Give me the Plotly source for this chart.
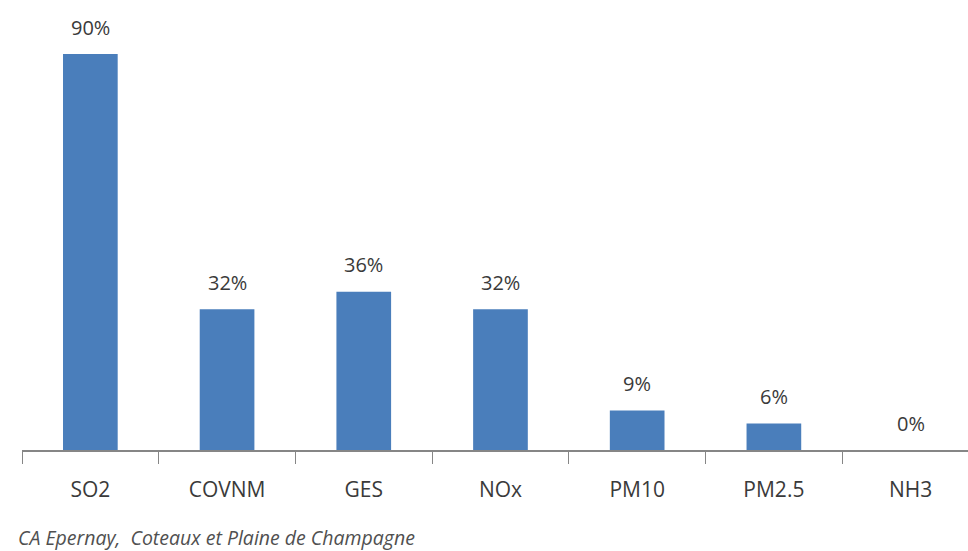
import plotly.graph_objects as go

# Share of emissions per pollutant (%)
categories = ["SO2", "COVNM", "GES", "NOx", "PM10", "PM2.5", "NH3"]
values = [90, 32, 36, 32, 9, 6, 0]
caption = "CA Epernay,  Coteaux et Plaine de Champagne"

bar_color = "#4a7ebb"
text_color = "#3a3a3a"
font_family = "Open Sans, Liberation Sans, sans-serif"

fig = go.Figure(
    go.Bar(
        x=categories,
        y=values,
        marker=dict(color=bar_color, line=dict(width=0)),
        width=0.4,
        hoverinfo="skip",
    )
)

# value labels above each bar
for cat, val in zip(categories, values):
    fig.add_annotation(
        x=cat, y=val, text=f"{val}%", showarrow=False,
        yanchor="middle", yshift=27,
        font=dict(size=20, color=text_color, family=font_family),
    )

# caption below the axis
fig.add_annotation(
    x=0, y=0, xref="paper", yref="paper", xanchor="left", yanchor="middle",
    xshift=-6, yshift=-87,
    text=f"<i>{caption}</i>", showarrow=False,
    font=dict(size=19.5, color="#505050", family=font_family),
)

fig.update_layout(
    width=968, height=551,
    margin=dict(l=22, r=0, t=0, b=101),
    paper_bgcolor="white", plot_bgcolor="white",
    showlegend=False,
    bargap=0.6,
    xaxis=dict(
        range=[-0.5, 6.42],
        showline=True, linecolor="#868686", linewidth=1.5,
        ticks="outside", tickson="boundaries", ticklen=12,
        tickcolor="#868686", tickwidth=1,
        ticklabelstandoff=20,
        tickfont=dict(size=21, color=text_color, family=font_family),
        showgrid=False, zeroline=False,
    ),
    yaxis=dict(
        range=[0, 102.3], visible=False, showgrid=False, zeroline=False,
    ),
)

fig.write_html("out.html")
